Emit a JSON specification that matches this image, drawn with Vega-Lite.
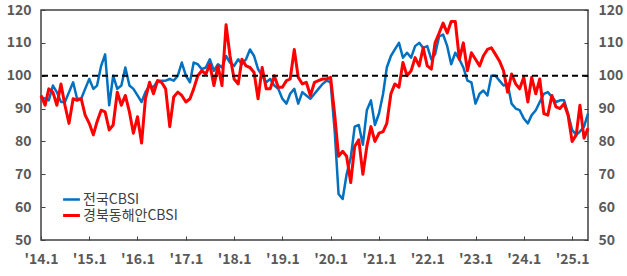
{
 "$schema": "https://vega.github.io/schema/vega-lite/v6.json",
 "width": 547, "height": 230,
 "autosize": {"type": "none"},
 "padding": {"left": 41, "top": 10, "right": 39, "bottom": 36},
 "background": "white",
 "config": {"view": {"stroke": "#404040", "strokeWidth": 1.5}, "font": "Noto Sans CJK KR"},
 "data": {"values": [
  {"d":"2014-01-01","전국CBSI":93.5,"경북동해안CBSI":94},
  {"d":"2014-02-01","전국CBSI":93,"경북동해안CBSI":91},
  {"d":"2014-03-01","전국CBSI":92.5,"경북동해안CBSI":96},
  {"d":"2014-04-01","전국CBSI":97,"경북동해안CBSI":95},
  {"d":"2014-05-01","전국CBSI":95,"경북동해안CBSI":91},
  {"d":"2014-06-01","전국CBSI":92,"경북동해안CBSI":97.5},
  {"d":"2014-07-01","전국CBSI":92,"경북동해안CBSI":91},
  {"d":"2014-08-01","전국CBSI":95,"경북동해안CBSI":85.5},
  {"d":"2014-09-01","전국CBSI":98,"경북동해안CBSI":93},
  {"d":"2014-10-01","전국CBSI":93,"경북동해안CBSI":92.5},
  {"d":"2014-11-01","전국CBSI":93,"경북동해안CBSI":93},
  {"d":"2014-12-01","전국CBSI":96,"경북동해안CBSI":88},
  {"d":"2015-01-01","전국CBSI":99,"경북동해안CBSI":85.5},
  {"d":"2015-02-01","전국CBSI":96,"경북동해안CBSI":82},
  {"d":"2015-03-01","전국CBSI":97,"경북동해안CBSI":86},
  {"d":"2015-04-01","전국CBSI":103,"경북동해안CBSI":89.5},
  {"d":"2015-05-01","전국CBSI":106.5,"경북동해안CBSI":89},
  {"d":"2015-06-01","전국CBSI":91,"경북동해안CBSI":83.5},
  {"d":"2015-07-01","전국CBSI":100,"경북동해안CBSI":85},
  {"d":"2015-08-01","전국CBSI":96,"경북동해안CBSI":95},
  {"d":"2015-09-01","전국CBSI":97,"경북동해안CBSI":91},
  {"d":"2015-10-01","전국CBSI":102.5,"경북동해안CBSI":94},
  {"d":"2015-11-01","전국CBSI":97,"경북동해안CBSI":89},
  {"d":"2015-12-01","전국CBSI":96,"경북동해안CBSI":82.5},
  {"d":"2016-01-01","전국CBSI":94,"경북동해안CBSI":87.5},
  {"d":"2016-02-01","전국CBSI":92,"경북동해안CBSI":79.5},
  {"d":"2016-03-01","전국CBSI":95,"경북동해안CBSI":93},
  {"d":"2016-04-01","전국CBSI":97,"경북동해안CBSI":98},
  {"d":"2016-05-01","전국CBSI":96.5,"경북동해안CBSI":94.5},
  {"d":"2016-06-01","전국CBSI":98.5,"경북동해안CBSI":98.5},
  {"d":"2016-07-01","전국CBSI":98.5,"경북동해안CBSI":98},
  {"d":"2016-08-01","전국CBSI":98.5,"경북동해안CBSI":96},
  {"d":"2016-09-01","전국CBSI":99,"경북동해안CBSI":84.5},
  {"d":"2016-10-01","전국CBSI":98.5,"경북동해안CBSI":93.5},
  {"d":"2016-11-01","전국CBSI":100,"경북동해안CBSI":95},
  {"d":"2016-12-01","전국CBSI":104,"경북동해안CBSI":94},
  {"d":"2017-01-01","전국CBSI":100,"경북동해안CBSI":92},
  {"d":"2017-02-01","전국CBSI":98,"경북동해안CBSI":93},
  {"d":"2017-03-01","전국CBSI":104,"경북동해안CBSI":96},
  {"d":"2017-04-01","전국CBSI":103.5,"경북동해안CBSI":100},
  {"d":"2017-05-01","전국CBSI":102,"경북동해안CBSI":101.5},
  {"d":"2017-06-01","전국CBSI":102.5,"경북동해안CBSI":100.5},
  {"d":"2017-07-01","전국CBSI":105,"경북동해안CBSI":103.5},
  {"d":"2017-08-01","전국CBSI":101.5,"경북동해안CBSI":97},
  {"d":"2017-09-01","전국CBSI":103.5,"경북동해안CBSI":103},
  {"d":"2017-10-01","전국CBSI":102.5,"경북동해안CBSI":97},
  {"d":"2017-11-01","전국CBSI":106,"경북동해안CBSI":115.5},
  {"d":"2017-12-01","전국CBSI":104,"경북동해안CBSI":106},
  {"d":"2018-01-01","전국CBSI":103,"경북동해안CBSI":99},
  {"d":"2018-02-01","전국CBSI":105,"경북동해안CBSI":97.5},
  {"d":"2018-03-01","전국CBSI":103.5,"경북동해안CBSI":105},
  {"d":"2018-04-01","전국CBSI":105,"경북동해안CBSI":103},
  {"d":"2018-05-01","전국CBSI":108,"경북동해안CBSI":102.5},
  {"d":"2018-06-01","전국CBSI":106,"경북동해안CBSI":101},
  {"d":"2018-07-01","전국CBSI":102,"경북동해안CBSI":93},
  {"d":"2018-08-01","전국CBSI":100,"경북동해안CBSI":102.5},
  {"d":"2018-09-01","전국CBSI":98,"경북동해안CBSI":96},
  {"d":"2018-10-01","전국CBSI":99,"경북동해안CBSI":96},
  {"d":"2018-11-01","전국CBSI":97,"경북동해안CBSI":100},
  {"d":"2018-12-01","전국CBSI":96,"경북동해안CBSI":96.5},
  {"d":"2019-01-01","전국CBSI":93,"경북동해안CBSI":96.5},
  {"d":"2019-02-01","전국CBSI":91.5,"경북동해안CBSI":98.5},
  {"d":"2019-03-01","전국CBSI":94.5,"경북동해안CBSI":99},
  {"d":"2019-04-01","전국CBSI":96,"경북동해안CBSI":108},
  {"d":"2019-05-01","전국CBSI":91.5,"경북동해안CBSI":99.5},
  {"d":"2019-06-01","전국CBSI":95,"경북동해안CBSI":97.5},
  {"d":"2019-07-01","전국CBSI":94,"경북동해안CBSI":98},
  {"d":"2019-08-01","전국CBSI":93,"경북동해안CBSI":94},
  {"d":"2019-09-01","전국CBSI":94.5,"경북동해안CBSI":98},
  {"d":"2019-10-01","전국CBSI":96,"경북동해안CBSI":98.5},
  {"d":"2019-11-01","전국CBSI":97.5,"경북동해안CBSI":99},
  {"d":"2019-12-01","전국CBSI":98.5,"경북동해안CBSI":99},
  {"d":"2020-01-01","전국CBSI":98,"경북동해안CBSI":99.5},
  {"d":"2020-02-01","전국CBSI":83,"경북동해안CBSI":88},
  {"d":"2020-03-01","전국CBSI":64,"경북동해안CBSI":75.5},
  {"d":"2020-04-01","전국CBSI":62.5,"경북동해안CBSI":77},
  {"d":"2020-05-01","전국CBSI":70,"경북동해안CBSI":75.5},
  {"d":"2020-06-01","전국CBSI":75,"경북동해안CBSI":67.5},
  {"d":"2020-07-01","전국CBSI":84.5,"경북동해안CBSI":78.5},
  {"d":"2020-08-01","전국CBSI":85,"경북동해안CBSI":80.5},
  {"d":"2020-09-01","전국CBSI":79,"경북동해안CBSI":70},
  {"d":"2020-10-01","전국CBSI":89.5,"경북동해안CBSI":78.5},
  {"d":"2020-11-01","전국CBSI":92.5,"경북동해안CBSI":84.5},
  {"d":"2020-12-01","전국CBSI":85,"경북동해안CBSI":80},
  {"d":"2021-01-01","전국CBSI":88.5,"경북동해안CBSI":82.5},
  {"d":"2021-02-01","전국CBSI":94.5,"경북동해안CBSI":83},
  {"d":"2021-03-01","전국CBSI":102.5,"경북동해안CBSI":85.5},
  {"d":"2021-04-01","전국CBSI":106,"경북동해안CBSI":94.5},
  {"d":"2021-05-01","전국CBSI":108,"경북동해안CBSI":97.5},
  {"d":"2021-06-01","전국CBSI":110,"경북동해안CBSI":96.5},
  {"d":"2021-07-01","전국CBSI":105.5,"경북동해안CBSI":104},
  {"d":"2021-08-01","전국CBSI":107,"경북동해안CBSI":100},
  {"d":"2021-09-01","전국CBSI":105.5,"경북동해안CBSI":101.5},
  {"d":"2021-10-01","전국CBSI":109,"경북동해안CBSI":105.5},
  {"d":"2021-11-01","전국CBSI":110,"경북동해안CBSI":103},
  {"d":"2021-12-01","전국CBSI":108.5,"경북동해안CBSI":108.5},
  {"d":"2022-01-01","전국CBSI":109,"경북동해안CBSI":103},
  {"d":"2022-02-01","전국CBSI":105,"경북동해안CBSI":102},
  {"d":"2022-03-01","전국CBSI":106.5,"경북동해안CBSI":110},
  {"d":"2022-04-01","전국CBSI":112,"경북동해안CBSI":113},
  {"d":"2022-05-01","전국CBSI":112.5,"경북동해안CBSI":116},
  {"d":"2022-06-01","전국CBSI":109,"경북동해안CBSI":113},
  {"d":"2022-07-01","전국CBSI":103.5,"경북동해안CBSI":116.5},
  {"d":"2022-08-01","전국CBSI":107,"경북동해안CBSI":116.5},
  {"d":"2022-09-01","전국CBSI":105,"경북동해안CBSI":105},
  {"d":"2022-10-01","전국CBSI":102.5,"경북동해안CBSI":110},
  {"d":"2022-11-01","전국CBSI":98.5,"경북동해안CBSI":101.5},
  {"d":"2022-12-01","전국CBSI":98,"경북동해안CBSI":107},
  {"d":"2023-01-01","전국CBSI":91.5,"경북동해안CBSI":105},
  {"d":"2023-02-01","전국CBSI":94.5,"경북동해안CBSI":103},
  {"d":"2023-03-01","전국CBSI":95.5,"경북동해안CBSI":106},
  {"d":"2023-04-01","전국CBSI":94,"경북동해안CBSI":108},
  {"d":"2023-05-01","전국CBSI":100,"경북동해안CBSI":108.5},
  {"d":"2023-06-01","전국CBSI":100,"경북동해안CBSI":106.5},
  {"d":"2023-07-01","전국CBSI":98.5,"경북동해안CBSI":104.5},
  {"d":"2023-08-01","전국CBSI":97,"경북동해안CBSI":101.5},
  {"d":"2023-09-01","전국CBSI":97.5,"경북동해안CBSI":95},
  {"d":"2023-10-01","전국CBSI":91.5,"경북동해안CBSI":100.5},
  {"d":"2023-11-01","전국CBSI":90,"경북동해안CBSI":97.5},
  {"d":"2023-12-01","전국CBSI":89.5,"경북동해안CBSI":96},
  {"d":"2024-01-01","전국CBSI":87,"경북동해안CBSI":99.5},
  {"d":"2024-02-01","전국CBSI":85.5,"경북동해안CBSI":92},
  {"d":"2024-03-01","전국CBSI":88,"경북동해안CBSI":99.5},
  {"d":"2024-04-01","전국CBSI":89.5,"경북동해안CBSI":94.5},
  {"d":"2024-05-01","전국CBSI":92,"경북동해안CBSI":99},
  {"d":"2024-06-01","전국CBSI":94.5,"경북동해안CBSI":88.5},
  {"d":"2024-07-01","전국CBSI":95,"경북동해안CBSI":88},
  {"d":"2024-08-01","전국CBSI":93.5,"경북동해안CBSI":94},
  {"d":"2024-09-01","전국CBSI":92,"경북동해안CBSI":90.5},
  {"d":"2024-10-01","전국CBSI":92.5,"경북동해안CBSI":90},
  {"d":"2024-11-01","전국CBSI":92.5,"경북동해안CBSI":91.5},
  {"d":"2024-12-01","전국CBSI":88.5,"경북동해안CBSI":88},
  {"d":"2025-01-01","전국CBSI":83.5,"경북동해안CBSI":80},
  {"d":"2025-02-01","전국CBSI":82,"경북동해안CBSI":82},
  {"d":"2025-03-01","전국CBSI":83,"경북동해안CBSI":91},
  {"d":"2025-04-01","전국CBSI":84.5,"경북동해안CBSI":81},
  {"d":"2025-05-01","전국CBSI":88.5,"경북동해안CBSI":84}
 ]},
 "layer": [
  {
   "transform": [{"fold": ["전국CBSI", "경북동해안CBSI"], "as": ["series", "value"]}],
   "mark": {"type": "line", "strokeJoin": "round"},
   "encoding": {
    "x": {"field": "d", "type": "temporal",
      "scale": {"type": "utc", "domain": [{"year": 2014, "month": 1, "date": 1, "utc": true}, {"year": 2025, "month": 5, "date": 1, "utc": true}]},
      "axis": {"title": null,
        "labelExpr": "\"'\" + utcFormat(datum.value, '%y') + '.' + (utcmonth(datum.value) + 1)",
        "values": [{"year":2014,"month":1,"date":1,"utc":true},{"year":2015,"month":1,"date":1,"utc":true},{"year":2016,"month":1,"date":1,"utc":true},{"year":2017,"month":1,"date":1,"utc":true},{"year":2018,"month":1,"date":1,"utc":true},{"year":2019,"month":1,"date":1,"utc":true},{"year":2020,"month":1,"date":1,"utc":true},{"year":2021,"month":1,"date":1,"utc":true},{"year":2022,"month":1,"date":1,"utc":true},{"year":2023,"month":1,"date":1,"utc":true},{"year":2024,"month":1,"date":1,"utc":true},{"year":2025,"month":1,"date":1,"utc":true}],
        "domain": false, "grid": false, "tickSize": -4, "tickColor": "#404040", "tickWidth": 1,
        "labelFlush": false, "labelPadding": 16, "labelFont": "Noto Sans CJK KR", "labelFontWeight": "bold",
        "labelFontSize": 14, "labelColor": "#595959", "labelAngle": 0, "labelOverlap": false}},
    "y": {"field": "value", "type": "quantitative", "scale": {"domain": [50, 120], "nice": false},
      "axis": {"orient": "left", "title": null, "values": [50,60,70,80,90,100,110,120], "domain": false, "grid": false,
        "tickSize": -4, "tickColor": "#404040", "tickWidth": 1, "labelPadding": 14,
        "labelFont": "Noto Sans CJK KR", "labelFontWeight": "bold", "labelFontSize": 14, "labelColor": "#595959"}},
    "color": {"field": "series", "type": "nominal",
      "scale": {"domain": ["전국CBSI", "경북동해안CBSI"], "range": ["#0070C0", "#FF0000"]},
      "legend": {"title": null, "orient": "none", "legendX": 22, "legendY": 181, "direction": "vertical",
        "symbolType": "M-1.2,0H1.2", "symbolStrokeWidth": 3, "symbolSize": 196, "symbolFillColor": "transparent",
        "labelFontSize": 14, "labelFont": "Noto Sans CJK KR", "labelColor": "#404040",
        "rowPadding": -1, "padding": 0, "labelOffset": 3}},
    "strokeWidth": {"field": "series", "type": "nominal",
      "scale": {"domain": ["전국CBSI", "경북동해안CBSI"], "range": [2.5, 3]}, "legend": null}
   }
  },
  {
   "data": {"values": [{"y": 100}]},
   "mark": {"type": "rule", "strokeDash": [6, 4], "strokeWidth": 2, "color": "black"},
   "encoding": {
    "y": {"field": "y", "type": "quantitative", "scale": {"domain": [50, 120], "nice": false},
      "axis": {"orient": "right", "title": null, "values": [50,60,70,80,90,100,110,120], "domain": false, "grid": false,
        "tickSize": -4, "tickColor": "#404040", "tickWidth": 1, "labelPadding": 14,
        "labelFont": "Noto Sans CJK KR", "labelFontWeight": "bold", "labelFontSize": 14, "labelColor": "#595959"}}
   }
  }
 ],
 "resolve": {"axis": {"y": "independent"}}
}
